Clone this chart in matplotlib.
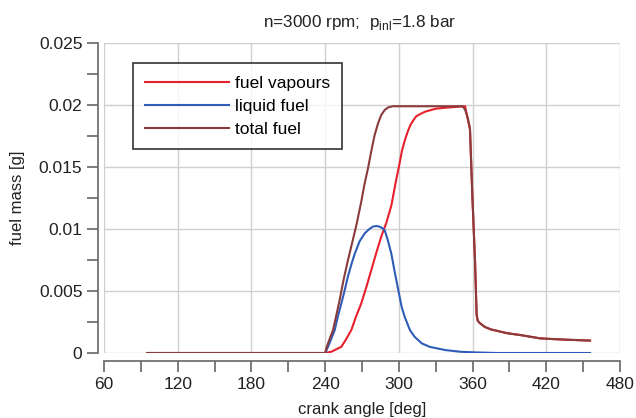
import matplotlib
matplotlib.use("Agg")
import matplotlib.pyplot as plt
from matplotlib.ticker import MultipleLocator

plt.rcParams['font.family'] = ['Liberation Sans', 'DejaVu Sans']
plt.rcParams['mathtext.fontset'] = 'custom'
plt.rcParams['mathtext.rm'] = 'Liberation Sans'

# crank angle [deg] and values [g]
vap_angle = [95, 240, 245, 249, 253.2, 257, 261.3, 265, 269.4, 273.5, 277.6, 281.7, 285.7,
             289.8, 293.9, 297.9, 300, 302.5, 305, 307.4, 309.5, 312, 314.2, 318, 321.3,
             330, 337.6, 349.8, 353.9, 356, 357.9, 359.8, 362, 363.3, 364.2, 366, 370,
             375, 388, 400, 415, 430, 445, 455.6]
vap_mass = [0, 0, 0.0001, 0.0003, 0.0005, 0.0011, 0.00185, 0.0029, 0.0040, 0.0053, 0.0067,
            0.0081, 0.0094, 0.0105, 0.0119, 0.0140, 0.0150, 0.0163, 0.0172, 0.0179, 0.0184,
            0.0188, 0.0191, 0.0193, 0.01946, 0.0197, 0.01978, 0.01987, 0.0199, 0.0189,
            0.0180, 0.0127, 0.0074, 0.0031, 0.0026, 0.0024, 0.0021, 0.0019, 0.0016,
            0.00143, 0.00118, 0.0011, 0.00104, 0.0010]

liq_angle = [240, 241, 244, 247.8, 250.5, 253.2, 256, 258.6, 261.5, 264.1, 268, 272.2,
             276, 279, 281.6, 284, 286, 288.5, 291, 293.9, 296.5, 299.3, 302.3, 304.8,
             309, 312.9, 318.6, 325, 337.6, 350, 362, 380, 455.6]
liq_mass = [0, 0.0002, 0.0009, 0.00185, 0.0030, 0.0040, 0.0051, 0.0062, 0.0072, 0.0080,
            0.0090, 0.00965, 0.0100, 0.0102, 0.01024, 0.0102, 0.0101, 0.0099, 0.0091,
            0.0080, 0.0066, 0.0052, 0.0037, 0.0029, 0.00185, 0.0013, 0.00078, 0.0005,
            0.00024, 0.0001, 0.00005, 0.0, 0.0]

tot_angle = [95, 240, 241, 243.5, 246.4, 249, 251.8, 255, 258.6, 262.5, 265.4, 269.4, 272,
             274.9, 277.6, 280.3, 283, 285.7, 288.5, 291.2, 295, 320, 340, 352, 354, 356,
             357.9, 359.8, 362, 363.3, 364.2, 366, 370, 375, 388, 400, 415, 430, 445, 455.6]
tot_mass = [0, 0, 0.0004, 0.0011, 0.00185, 0.0030, 0.00427, 0.0059, 0.0075, 0.0091, 0.0103,
            0.0122, 0.0136, 0.0149, 0.0163, 0.01758, 0.0185, 0.0192, 0.0196, 0.0198, 0.0199,
            0.0199, 0.0199, 0.0199, 0.0196, 0.0190, 0.0181, 0.0127, 0.0074, 0.0031, 0.0026,
            0.0024, 0.0021, 0.0019, 0.0016, 0.00143, 0.00118, 0.0011, 0.00104, 0.0010]

x_ticks = [60, 120, 180, 240, 300, 360, 420, 480]
y_ticks = [0, 0.005, 0.01, 0.015, 0.02, 0.025]
y_tick_labels = ['0', '0.005', '0.01', '0.015', '0.02', '0.025']

fig = plt.figure(figsize=(6.36, 4.18), dpi=100)
ax = fig.add_axes([104/636, 1-353/418, 516/636, 310/418])

ax.plot(vap_angle, vap_mass, color='#e8202c', lw=1.5, label='fuel vapours')
ax.plot(liq_angle, liq_mass, color='#2f5cb8', lw=1.5, label='liquid fuel')
ax.plot(tot_angle, tot_mass, color='#8a3b3b', lw=1.5, label='total fuel')

ax.set_xlim(60, 480)
ax.set_ylim(0, 0.025)
ax.set_xticks(x_ticks)
ax.set_yticks(y_ticks)
ax.set_yticklabels(y_tick_labels)
ax.xaxis.set_minor_locator(MultipleLocator(30))
ax.yaxis.set_minor_locator(MultipleLocator(0.0025))
ax.grid(True, which='major', color='#d0d0d0', lw=1.0)
ax.set_axisbelow(True)

for s in ['top', 'right']:
    ax.spines[s].set_visible(False)
ax.spines['left'].set_position(('outward', 4))
ax.spines['bottom'].set_position(('outward', 6))
ax.spines['left'].set_bounds(0, 0.025)
ax.spines['bottom'].set_bounds(60, 480)
for s in ['left', 'bottom']:
    ax.spines[s].set_color('#666666')
    ax.spines[s].set_linewidth(1.2)
ax.tick_params(which='both', direction='out', length=8, width=1.2, color='#666666',
               labelsize=12.5, labelcolor='#222222')

ax.set_xlabel('crank angle [deg]', fontsize=12, color='#222222', labelpad=7)
ax.set_ylabel('fuel mass [g]', fontsize=12, color='#222222', labelpad=10)
fig.text(360/636, 1-27/418, 'n=3000 rpm;  p$_{\\mathrm{inl}}$=1.8 bar', fontsize=12.3,
         color='#222222', ha='center', va='baseline')

leg = ax.legend(loc='upper left', bbox_to_anchor=(0.056, 0.935), fontsize=12.5,
                frameon=True, fancybox=False, edgecolor='black', handlelength=4.8,
                borderpad=0.72, labelspacing=0.45, handletextpad=0.35, borderaxespad=0)
leg.get_frame().set_linewidth(1.2)

fig.savefig('out.png', dpi=100)
